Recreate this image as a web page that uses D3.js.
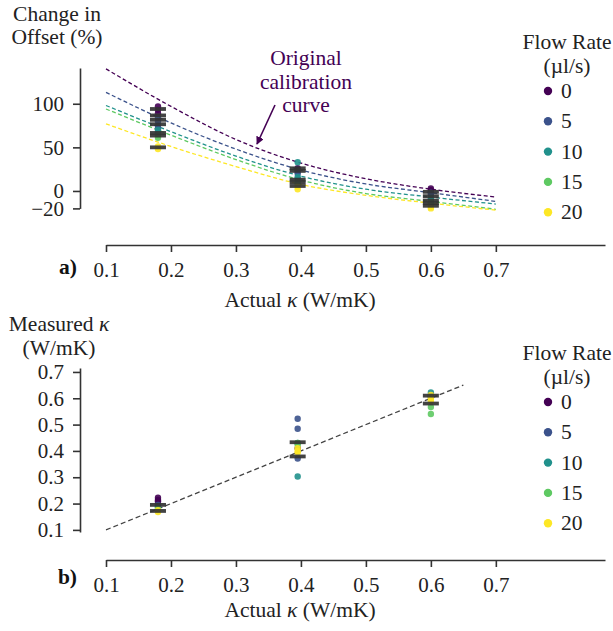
<!DOCTYPE html>
<html>
<head>
<meta charset="utf-8">
<script src="https://cdn.jsdelivr.net/npm/d3@7"></script>
<style>
  body { margin: 0; background: #fff; }
  text { font-family: "Liberation Serif", "Times New Roman", serif; }
</style>
</head>
<body>
<script>
// ---- data ----
const flowRates = [0, 5, 10, 15, 20];
const flowColors = ['#440154', '#3b528b', '#21918c', '#5ec962', '#fde725'];
const xTicks = [0.1, 0.2, 0.3, 0.4, 0.5, 0.6, 0.7];

// calibration curves (change in offset %), sampled at curveKappa
const curveKappa = [0.1, 0.2, 0.3, 0.4, 0.5, 0.6, 0.7];
const curve0  = [140, 97, 59, 32, 14, 2, -7];
const curve5  = [113, 78, 48, 24, 8, -2, -12];
const curve10 = [98, 68, 40, 17, 2, -7, -15];
const curve15 = [94, 64, 36, 12.5, -3, -12, -21];
const curve20 = [77, 51, 28, 7.5, -5, -14, -22];
const curves = [curve0, curve5, curve10, curve15, curve20];

// measured offsets [kappa, %] per flow rate
const offset0  = [[0.18, 97], [0.18, 93], [0.18, 89], [0.395, 26], [0.395, 24], [0.6, 3], [0.6, 1]];
const offset5  = [[0.18, 84], [0.18, 80], [0.18, 75], [0.18, 72], [0.395, 22], [0.395, 20], [0.6, -2], [0.6, -4]];
const offset10 = [[0.18, 70], [0.18, 67], [0.395, 33], [0.395, 16], [0.395, 14], [0.6, -8], [0.6, -10]];
const offset15 = [[0.18, 64], [0.18, 61], [0.395, 10], [0.395, 8], [0.6, -13], [0.6, -15]];
const offset20 = [[0.18, 51], [0.18, 48], [0.395, 5], [0.395, 2], [0.6, -18], [0.6, -20]];
const offsets = [offset0, offset5, offset10, offset15, offset20];
const offsetBars = [[0.18, 94], [0.18, 86.6], [0.18, 81.6], [0.18, 76.5], [0.18, 66.5], [0.18, 63.5], [0.18, 50],
                    [0.395, 26], [0.395, 23], [0.395, 13], [0.395, 10], [0.395, 5.7],
                    [0.6, -1], [0.6, -6], [0.6, -11], [0.6, -14], [0.6, -17]];
const offsetYTicks = [100, 50, 0, -20];

// measured kappa [kappa, measured] per flow rate
const measured0  = [[0.18, 0.222], [0.18, 0.214], [0.18, 0.208], [0.395, 0.41], [0.6, 0.61]];
const measured5  = [[0.18, 0.195], [0.18, 0.19], [0.395, 0.522], [0.395, 0.484], [0.395, 0.371], [0.6, 0.605]];
const measured10 = [[0.18, 0.185], [0.395, 0.43], [0.395, 0.303], [0.6, 0.622]];
const measured15 = [[0.18, 0.18], [0.395, 0.423], [0.395, 0.43], [0.6, 0.567], [0.6, 0.54]];
const measured20 = [[0.18, 0.175], [0.18, 0.168], [0.395, 0.40], [0.395, 0.394], [0.395, 0.41],
                    [0.6, 0.613], [0.6, 0.60], [0.6, 0.59]];
const measureds = [measured0, measured5, measured10, measured15, measured20];
const measuredBars = [[0.18, 0.195], [0.18, 0.172], [0.395, 0.433], [0.395, 0.379], [0.6, 0.61], [0.6, 0.58]];
const measuredYTicks = [0.1, 0.2, 0.3, 0.4, 0.5, 0.6, 0.7];
const identity = [[0.1, 0.1], [0.65, 0.65]];

const W = 613, H = 631;
const axisCol = '#333';
const labelSize = '21.5px', tickSize = '21px';

const svg = d3.select('body').append('svg')
    .attr('width', W).attr('height', H);

svg.append('defs').append('marker')
    .attr('id', 'arrow')
    .attr('viewBox', '0 0 10 10')
    .attr('refX', 9).attr('refY', 5)
    .attr('markerWidth', 5).attr('markerHeight', 5)
    .attr('orient', 'auto')
  .append('path')
    .attr('d', 'M0,0 L10,5 L0,10 z')
    .attr('fill', '#440154');

const x = d3.scaleLinear().domain([0.1, 0.868]).range([106, 605]);

function styleAxis(g) {
    g.select('.domain').attr('stroke', axisCol).attr('stroke-width', 1.6);
    g.selectAll('.tick line').attr('stroke', axisCol).attr('stroke-width', 1.6);
    g.selectAll('.tick text').attr('fill', '#222')
        .style('font-family', '"Liberation Serif", serif').style('font-size', tickSize);
}

function xAxis(yPos) {
    const g = svg.append('g')
        .attr('transform', 'translate(0,' + yPos + ')')
        .call(d3.axisBottom(x).tickValues(xTicks).tickSize(7).tickPadding(10)
            .tickFormat(d3.format('.1f')).tickSizeOuter(0));
    styleAxis(g);
}

function legend(top) {
    const g = svg.append('g');
    g.append('text').attr('x', 567).attr('y', top).attr('text-anchor', 'middle')
        .style('font-size', labelSize).attr('fill', '#222').text('Flow Rate');
    g.append('text').attr('x', 567).attr('y', top + 24).attr('text-anchor', 'middle')
        .style('font-size', labelSize).attr('fill', '#222').text('(µl/s)');
    flowRates.forEach((f, i) => {
        const cy = top + 42 + i * 30.3;
        g.append('circle').attr('cx', 548).attr('cy', cy).attr('r', 4.2).attr('fill', flowColors[i]);
        g.append('text').attr('x', 561).attr('y', cy + 7)
            .style('font-size', labelSize).attr('fill', '#222').text(f);
    });
}

function drawPoints(sets, y) {
    sets.forEach((pts, i) => {
        svg.append('g').selectAll('circle')
            .data(pts).enter().append('circle')
            .attr('cx', d => x(d[0]))
            .attr('cy', d => y(d[1]))
            .attr('r', 3.2)
            .attr('fill', flowColors[i])
            .attr('opacity', 0.9);
    });
}

function drawBars(bars, y) {
    svg.append('g').selectAll('rect')
        .data(bars).enter().append('rect')
        .attr('x', d => x(d[0]) - 8)
        .attr('y', d => y(d[1]) - 1.9)
        .attr('width', 16).attr('height', 3.8)
        .attr('fill', '#333').attr('opacity', 0.92);
}

function kappaLabel(yPos) {
    const t = svg.append('text').attr('x', 300).attr('y', yPos).attr('text-anchor', 'middle')
        .style('font-size', labelSize).attr('fill', '#222');
    t.append('tspan').text('Actual ');
    t.append('tspan').style('font-style', 'italic').text('κ');
    t.append('tspan').text(' (W/mK)');
}

// ---------- panel a ----------
const yA = d3.scaleLinear().domain([-20, 141]).range([208.4, 68]);

const gyA = svg.append('g').attr('transform', 'translate(80,0)')
    .call(d3.axisLeft(yA).tickValues(offsetYTicks).tickSize(7).tickPadding(9).tickSizeOuter(0));
styleAxis(gyA);
xAxis(245);

const line = d3.line().curve(d3.curveMonotoneX)
    .x(d => x(d[0])).y(d => yA(d[1]));

curves.forEach((c, i) => {
    svg.append('path')
        .datum(curveKappa.map((k, j) => [k, c[j]]))
        .attr('d', line)
        .attr('fill', 'none')
        .attr('stroke', flowColors[i])
        .attr('stroke-width', 1.3)
        .attr('stroke-dasharray', '4,2.5');
});

drawPoints(offsets, yA);
drawBars(offsetBars, yA);

const ann = svg.append('text').attr('text-anchor', 'middle')
    .attr('fill', '#440154').style('font-size', labelSize);
['Original', 'calibration', 'curve'].forEach((t, i) => {
    ann.append('tspan').attr('x', 306).attr('y', 65 + i * 23.5).text(t);
});
svg.append('line')
    .attr('x1', 275).attr('y1', 105).attr('x2', 257).attr('y2', 144)
    .attr('stroke', '#440154').attr('stroke-width', 1.6)
    .attr('marker-end', 'url(#arrow)');

svg.append('text').attr('x', 57).attr('y', 21).attr('text-anchor', 'middle')
    .style('font-size', labelSize).attr('fill', '#222').text('Change in');
svg.append('text').attr('x', 57).attr('y', 44).attr('text-anchor', 'middle')
    .style('font-size', labelSize).attr('fill', '#222').text('Offset (%)');
svg.append('text').attr('x', 77).attr('y', 274).attr('text-anchor', 'end')
    .style('font-size', labelSize).style('font-weight', 'bold').attr('fill', '#111').text('a)');

kappaLabel(307);
legend(49);

// ---------- panel b ----------
const yB = d3.scaleLinear().domain([0.092, 0.715]).range([532, 368]);

const gyB = svg.append('g').attr('transform', 'translate(80,0)')
    .call(d3.axisLeft(yB).tickValues(measuredYTicks).tickSize(7).tickPadding(9)
        .tickFormat(d3.format('.1f')).tickSizeOuter(0));
styleAxis(gyB);
xAxis(560);

svg.append('path')
    .datum(identity)
    .attr('d', d3.line().x(d => x(d[0])).y(d => yB(d[1])))
    .attr('fill', 'none')
    .attr('stroke', '#444')
    .attr('stroke-width', 1.3)
    .attr('stroke-dasharray', '5,3');

drawPoints(measureds, yB);
drawBars(measuredBars, yB);

const yl2 = svg.append('text').attr('x', 59).attr('y', 331).attr('text-anchor', 'middle')
    .style('font-size', labelSize).attr('fill', '#222');
yl2.append('tspan').text('Measured ');
yl2.append('tspan').style('font-style', 'italic').text('κ');
svg.append('text').attr('x', 59).attr('y', 355).attr('text-anchor', 'middle')
    .style('font-size', labelSize).attr('fill', '#222').text('(W/mK)');
svg.append('text').attr('x', 77).attr('y', 584).attr('text-anchor', 'end')
    .style('font-size', labelSize).style('font-weight', 'bold').attr('fill', '#111').text('b)');

kappaLabel(617);
legend(360);
</script>
</body>
</html>
